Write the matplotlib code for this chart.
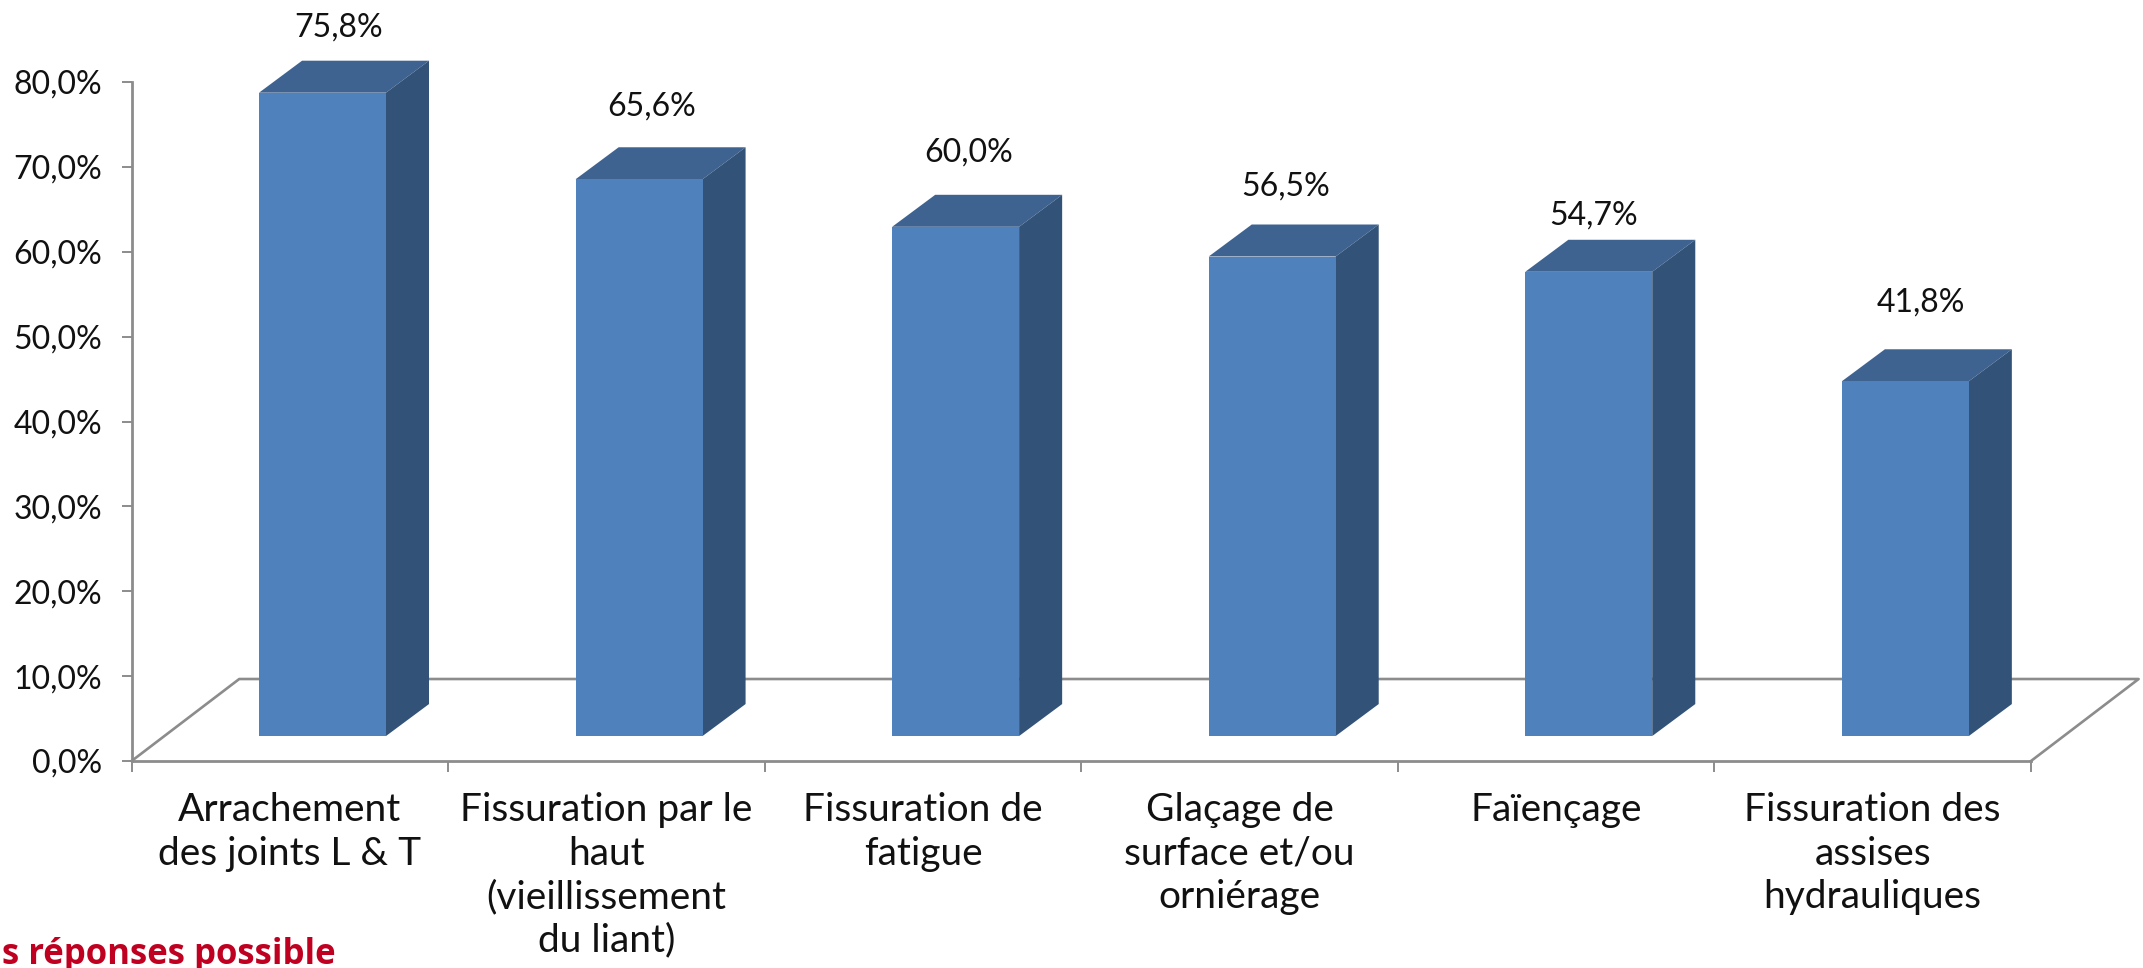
import matplotlib
matplotlib.use("Agg")
import matplotlib.pyplot as plt
import numpy as np

plt.rcParams["font.family"] = ["Lato", "DejaVu Sans"]

categories = [
    "Arrachement\ndes joints L & T",
    "Fissuration par le\nhaut\n(vieillissement\ndu liant)",
    "Fissuration de\nfatigue",
    "Glaçage de\nsurface et/ou\norniérage",
    "Faïençage",
    "Fissuration des\nassises\nhydrauliques",
]
values = [75.8, 65.6, 60.0, 56.5, 54.7, 41.8]
value_labels = ["75,8%", "65,6%", "60,0%", "56,5%", "54,7%", "41,8%"]
y_ticks = [0, 10, 20, 30, 40, 50, 60, 70, 80]
y_tick_labels = ["0,0%", "10,0%", "20,0%", "30,0%", "40,0%", "50,0%", "60,0%", "70,0%", "80,0%"]

# the fake 3D look, in axis units
bar_center = 0.603
bar_width = 0.401
bar_base = 2.94
depth_x = 0.136
depth_y = 3.77
floor_x = 0.34
floor_y = 9.66

# label offsets above the top of each bar
label_dx = [0.050, 0.041, 0.041, 0.042, 0.014, 0.048]
label_dy = [8.0, 8.9, 9.1, 8.6, 7.0, 9.6]

front = "#4F81BD"
top = "#3F6391"
side = "#325278"
grey = "#8C8C8C"

fig = plt.figure(figsize=(21.43, 9.68), dpi=100)
ax = fig.add_axes([131.6 / 2143, (968 - 761) / 968, 1899.4 / 2143, 679 / 968])
ax.set_xlim(0, 6)
ax.set_ylim(0, 80)

# floor outline, behind the bars
ax.plot([0, floor_x, 6 + floor_x, 6], [0, floor_y, floor_y, 0],
        color=grey, lw=1.9, clip_on=False, zorder=1)

x = np.arange(len(values)) + bar_center
heights = np.array(values)
ax.bar(x, heights, bar_width, bottom=bar_base, color=front, zorder=3, clip_on=False)

for xi, h, lab, dx, dy in zip(x, heights, value_labels, label_dx, label_dy):
    left = xi - bar_width / 2
    right = xi + bar_width / 2
    y_top = bar_base + h
    ax.fill([left, left + depth_x, right + depth_x, right],
            [y_top, y_top + depth_y, y_top + depth_y, y_top],
            color=top, lw=0, zorder=2, clip_on=False)
    ax.fill([right, right + depth_x, right + depth_x, right],
            [bar_base, bar_base + depth_y, y_top + depth_y, y_top],
            color=side, lw=0, zorder=2, clip_on=False)
    ax.text(xi + dx, y_top + dy, lab, ha="center", va="center_baseline",
            fontsize=23, color="#111111", clip_on=False)

for s in ["top", "right"]:
    ax.spines[s].set_visible(False)
for s in ["left", "bottom"]:
    ax.spines[s].set_color(grey)
    ax.spines[s].set_linewidth(2)

ax.set_yticks(y_ticks)
ax.set_yticklabels(y_tick_labels, fontsize=23, color="#111111", va="center_baseline")
ax.tick_params(axis="y", length=7, width=1.4, color=grey, pad=14)

ax.set_xticks(np.arange(7))
ax.set_xticklabels([])
ax.tick_params(axis="x", length=8, width=1.4, color=grey)

for i, cat in enumerate(categories):
    ax.text(i + 0.5, -3.7, cat, ha="center", va="top", fontsize=28,
            color="#111111", linespacing=1.25, clip_on=False)

fig.text(336 / 2143, 1 - 964 / 968, "s réponses possible", ha="right", va="baseline",
         fontsize=25, fontweight="bold", color="#C00020", family="Open Sans")

fig.savefig("out.png", dpi=100)
